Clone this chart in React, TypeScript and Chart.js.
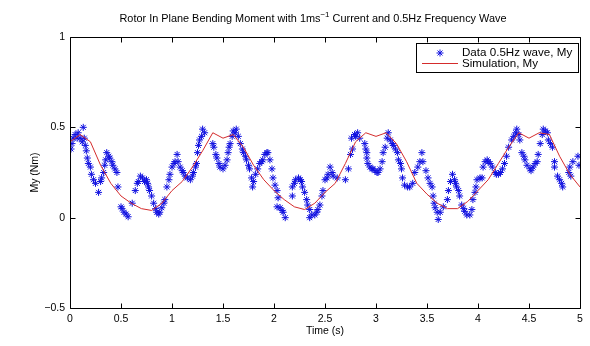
import React, { useEffect, useRef } from 'react';
import { Chart, registerables } from 'chart.js';
Chart.register(...registerables);

const titleMain = 'Rotor In Plane Bending Moment with 1ms';
const titleSup = '\u22121';
const titleRest = ' Current and 0.5Hz Frequency Wave';
const xLabel = 'Time (s)';
const yLabel = 'My (Nm)';
const legendData = 'Data 0.5Hz wave, My';
const legendSim = 'Simulation, My';

const xTicks = [0, 0.5, 1, 1.5, 2, 2.5, 3, 3.5, 4, 4.5, 5];
const yTicks = [-0.5, 0, 0.5, 1];

const simTime = [
  0.0, 0.1, 0.2, 0.3, 0.4, 0.5, 0.6, 0.7, 0.8, 0.9, 1.0, 1.1, 1.2, 1.3, 1.4, 1.5, 1.6, 1.7, 1.8, 1.9, 2.0,
  2.1, 2.2, 2.3, 2.4, 2.5, 2.6, 2.7, 2.8, 2.9, 3.0, 3.1, 3.2, 3.3, 3.4, 3.5, 3.6, 3.7, 3.8, 3.9, 4.0,
  4.1, 4.2, 4.3, 4.4, 4.5, 4.6, 4.7, 4.8, 4.9, 5.0,
];
const simMy = [
  0.42, 0.46, 0.42, 0.29, 0.19, 0.12, 0.08, 0.05, 0.04, 0.08, 0.15, 0.2, 0.28, 0.37, 0.47, 0.44, 0.46, 0.39, 0.29, 0.21, 0.15,
  0.1, 0.06, 0.045, 0.08, 0.14, 0.19, 0.3, 0.42, 0.47, 0.45, 0.47, 0.41, 0.31, 0.19, 0.13, 0.08, 0.05, 0.05, 0.09, 0.15,
  0.21, 0.3, 0.39, 0.47, 0.44, 0.47, 0.46, 0.34, 0.24, 0.17,
];

const dataTime = [
  0.01, 0.02, 0.03, 0.05, 0.07, 0.08, 0.1, 0.12, 0.13, 0.14, 0.15, 0.16, 0.17, 0.18, 0.2, 0.21, 0.23, 0.25, 0.28,
  0.3, 0.31, 0.33, 0.34, 0.35, 0.36, 0.38, 0.39, 0.41, 0.42, 0.44, 0.46, 0.47, 0.5, 0.51, 0.53, 0.55, 0.57,
  0.61, 0.64, 0.66, 0.67, 0.69, 0.71, 0.73, 0.75, 0.76, 0.77, 0.78, 0.8, 0.82, 0.84, 0.85, 0.87, 0.88, 0.9,
  0.92, 0.93, 0.95, 0.97, 0.98, 1.0, 1.02, 1.03, 1.05, 1.06, 1.08, 1.1, 1.11, 1.13, 1.15, 1.18, 1.2, 1.21,
  1.23, 1.24, 1.25, 1.26, 1.27, 1.29, 1.3, 1.32, 1.4, 1.41, 1.43, 1.44, 1.46, 1.47, 1.5, 1.52, 1.54, 1.55,
  1.56, 1.57, 1.59, 1.6, 1.62, 1.63, 1.65, 1.67, 1.69, 1.7, 1.72, 1.73, 1.75, 1.76, 1.78, 1.79, 1.8, 1.82,
  1.84, 1.86, 1.88, 1.89, 1.91, 1.93, 1.94, 1.96, 1.98, 1.99, 2.01, 2.03, 2.03, 2.04, 2.06, 2.08, 2.09, 2.11,
  2.18, 2.18, 2.2, 2.21, 2.24, 2.26, 2.27, 2.28, 2.3, 2.32, 2.33, 2.35, 2.35, 2.37, 2.4, 2.42, 2.43, 2.45,
  2.47, 2.48, 2.5, 2.52, 2.53, 2.55, 2.57, 2.58, 2.62, 2.7, 2.73, 2.75, 2.76, 2.77, 2.79, 2.8, 2.82, 2.84,
  2.89, 2.9, 2.91, 2.91, 2.92, 2.94, 2.96, 2.97, 2.99, 3.01, 3.02, 3.04, 3.06, 3.07, 3.09, 3.11, 3.12, 3.14,
  3.16, 3.17, 3.19, 3.21, 3.22, 3.24, 3.25, 3.26, 3.28, 3.31, 3.33, 3.36, 3.38, 3.41, 3.43, 3.45, 3.46, 3.49,
  3.51, 3.53, 3.55, 3.56, 3.57, 3.58, 3.6, 3.61, 3.63, 3.66, 3.7, 3.71, 3.73, 3.75, 3.77, 3.78, 3.79, 3.81,
  3.82, 3.84, 3.86, 3.87, 3.89, 3.92, 3.94, 3.95, 3.97, 3.98, 3.99, 4.02, 4.04, 4.05, 4.07, 4.09, 4.1, 4.12,
  4.14, 4.17, 4.18, 4.2, 4.22, 4.24, 4.26, 4.28, 4.3, 4.33, 4.35, 4.37, 4.38, 4.4, 4.41, 4.43, 4.45, 4.46,
  4.48, 4.51, 4.52, 4.54, 4.56, 4.58, 4.59, 4.61, 4.63, 4.64, 4.66, 4.68, 4.69, 4.71, 4.73, 4.75, 4.75, 4.78,
  4.8, 4.82, 4.83, 4.89, 4.9, 4.91, 4.93, 4.98, 4.99,
];
const dataMy = [
  0.38, 0.41, 0.44, 0.46, 0.44, 0.47, 0.44, 0.42, 0.5, 0.44, 0.4, 0.37, 0.33, 0.3, 0.28, 0.24, 0.21, 0.19, 0.14,
  0.2, 0.22, 0.25, 0.29, 0.32, 0.36, 0.34, 0.33, 0.31, 0.29, 0.27, 0.25, 0.17, 0.06, 0.05, 0.03, 0.02, 0.005,
  0.08, 0.15, 0.19, 0.2, 0.23, 0.22, 0.2, 0.21, 0.19, 0.17, 0.15, 0.12, 0.08, 0.05, 0.03, 0.02, 0.03, 0.055,
  0.08, 0.1, 0.17, 0.21, 0.24, 0.28, 0.3, 0.31, 0.35, 0.31, 0.28, 0.26, 0.25, 0.23, 0.22, 0.21, 0.23, 0.25,
  0.28, 0.3, 0.36, 0.4, 0.43, 0.45, 0.49, 0.47, 0.41, 0.39, 0.35, 0.33, 0.3, 0.28, 0.27, 0.29, 0.32, 0.36,
  0.39, 0.41, 0.45, 0.48, 0.47, 0.49, 0.45, 0.41, 0.38, 0.36, 0.34, 0.32, 0.29, 0.27, 0.22, 0.17, 0.2, 0.24,
  0.27, 0.3, 0.31, 0.32, 0.35, 0.36, 0.36, 0.32, 0.27, 0.22, 0.18, 0.15, 0.06, 0.11, 0.055, 0.04, 0.03, 0.0,
  0.12, 0.17, 0.19, 0.21, 0.22, 0.21, 0.2, 0.17, 0.14, 0.1, 0.07, 0.045, 0.0, 0.015, 0.015, 0.03, 0.045, 0.07,
  0.12, 0.15, 0.21, 0.22, 0.24, 0.28, 0.25, 0.23, 0.22, 0.21, 0.27, 0.35, 0.44, 0.38, 0.46, 0.45, 0.47, 0.44,
  0.41, 0.38, 0.36, 0.33, 0.3, 0.28, 0.27, 0.27, 0.26, 0.25, 0.25, 0.27, 0.31, 0.36, 0.39, 0.44, 0.47, 0.43,
  0.41, 0.4, 0.38, 0.36, 0.32, 0.3, 0.27, 0.22, 0.18, 0.17, 0.17, 0.19, 0.25, 0.28, 0.31, 0.36, 0.31, 0.26,
  0.22, 0.19, 0.17, 0.12, 0.08, 0.055, 0.03, -0.01, 0.03, 0.06, 0.1, 0.15, 0.2, 0.24, 0.21, 0.19, 0.17, 0.15,
  0.12, 0.07, 0.05, 0.035, 0.015, 0.015, 0.045, 0.1, 0.14, 0.17, 0.21, 0.22, 0.22, 0.28, 0.31, 0.32, 0.31, 0.3,
  0.28, 0.25, 0.24, 0.24, 0.25, 0.27, 0.3, 0.34, 0.39, 0.43, 0.45, 0.47, 0.49, 0.46, 0.43, 0.36, 0.34, 0.32,
  0.29, 0.27, 0.26, 0.28, 0.3, 0.31, 0.35, 0.41, 0.46, 0.49, 0.48, 0.47, 0.43, 0.41, 0.39, 0.31, 0.28, 0.23,
  0.21, 0.19, 0.17, 0.25, 0.28, 0.23, 0.31, 0.34, 0.29,
];

const BLUE = '#1010e0';
const RED = '#d42c2c';
const FONT = "'Liberation Sans', Arial, Helvetica, sans-serif";

export default function App() {
  const ref = useRef<HTMLCanvasElement>(null);
  useEffect(() => {
    document.body.style.margin = '0';
    const canvas = ref.current;
    if (!canvas) return;

    const matlab = {
      id: 'matlabDecor',
      afterDraw(chart: any) {
        const { ctx, chartArea: a, scales } = chart;
        const xs = scales.x;
        const ys = scales.y;
        const L = Math.round(a.left) + 0.5;
        const R = Math.round(a.right) + 0.5;
        const T = Math.round(a.top) + 0.5;
        const B = Math.round(a.bottom) + 0.5;
        ctx.save();
        ctx.strokeStyle = '#000';
        ctx.lineWidth = 1;
        ctx.beginPath();
        ctx.rect(L, T, R - L, B - T);
        ctx.stroke();
        const tl = 5;
        ctx.beginPath();
        xTicks.forEach((v) => {
          const px = Math.round(xs.getPixelForValue(v)) + 0.5;
          ctx.moveTo(px, B);
          ctx.lineTo(px, B - tl);
          ctx.moveTo(px, T);
          ctx.lineTo(px, T + tl);
        });
        yTicks.forEach((v) => {
          const py = Math.round(ys.getPixelForValue(v)) + 0.5;
          ctx.moveTo(L, py);
          ctx.lineTo(L + tl, py);
          ctx.moveTo(R, py);
          ctx.lineTo(R - tl, py);
        });
        ctx.stroke();

        // title
        ctx.fillStyle = '#000';
        ctx.textBaseline = 'middle';
        const fMain = `10.9px ${FONT}`;
        const fSup = `8px ${FONT}`;
        ctx.font = fMain;
        const w1 = ctx.measureText(titleMain).width;
        const w3 = ctx.measureText(titleRest).width;
        ctx.font = fSup;
        const w2 = ctx.measureText(titleSup).width;
        const cx = (a.left + a.right) / 2;
        let tx = 313 - (w1 + w2 + w3) / 2;
        const ty = 19;
        ctx.textAlign = 'left';
        ctx.font = fMain;
        ctx.fillText(titleMain, tx, ty);
        tx += w1;
        ctx.font = fSup;
        ctx.fillText(titleSup, tx, ty - 4);
        tx += w2;
        ctx.font = fMain;
        ctx.fillText(titleRest, tx, ty);

        // axis labels
        ctx.font = `10.5px ${FONT}`;
        ctx.textAlign = 'center';
        ctx.fillText(xLabel, cx, 331);
        ctx.save();
        ctx.translate(35, (a.top + a.bottom) / 2);
        ctx.rotate(-Math.PI / 2);
        ctx.fillText(yLabel, 0, 0);
        ctx.restore();

        // legend
        const lx = 416.5, ly = 43.5, lw = 162, lh = 29;
        ctx.fillStyle = '#fff';
        ctx.fillRect(lx, ly, lw, lh);
        ctx.strokeStyle = '#000';
        ctx.strokeRect(lx, ly, lw, lh);
        // asterisk marker
        const mx = 440, my = 53, r = 3.5;
        ctx.strokeStyle = BLUE;
        ctx.beginPath();
        ctx.moveTo(mx - r, my); ctx.lineTo(mx + r, my);
        ctx.moveTo(mx, my - r); ctx.lineTo(mx, my + r);
        const d = r * Math.SQRT1_2;
        ctx.moveTo(mx - d, my - d); ctx.lineTo(mx + d, my + d);
        ctx.moveTo(mx - d, my + d); ctx.lineTo(mx + d, my - d);
        ctx.stroke();
        ctx.strokeStyle = RED;
        ctx.beginPath();
        ctx.moveTo(422, 63.5); ctx.lineTo(458, 63.5);
        ctx.stroke();
        ctx.fillStyle = '#000';
        ctx.textAlign = 'left';
        ctx.font = `11.6px ${FONT}`;
        ctx.fillText(legendData, 462, 53);
        ctx.fillText(legendSim, 462, 64);
        ctx.restore();
      },
    };

    const tickFont = { family: FONT, size: 10.5 };
    const chart = new Chart(canvas, {
      type: 'scatter',
      data: {
        datasets: [
          {
            label: legendSim,
            data: simTime.map((t, i) => ({ x: t, y: simMy[i] })),
            showLine: true,
            borderColor: RED,
            backgroundColor: RED,
            borderWidth: 1,
            pointRadius: 0,
            tension: 0,
          },
          {
            label: legendData,
            data: dataTime.map((t, i) => ({ x: t, y: dataMy[i] })),
            showLine: false,
            pointStyle: 'star',
            pointRadius: 3.5,
            borderColor: BLUE,
            backgroundColor: BLUE,
            borderWidth: 1,
          },
        ],
      },
      options: {
        animation: false,
        responsive: false,
        events: [],
        layout: { padding: { left: 0, top: 37, right: 10, bottom: 0 } },
        plugins: {
          legend: { display: false },
          title: { display: false },
          tooltip: { enabled: false },
        },
        scales: {
          x: {
            type: 'linear',
            min: 0,
            max: 5,
            afterBuildTicks: (s: any) => {
              s.ticks = xTicks.map((v) => ({ value: v }));
            },
            afterFit: (s: any) => {
              s.height = 38;
            },
            grid: { display: false, drawTicks: false },
            border: { display: false },
            ticks: {
              padding: 5,
              color: '#000',
              font: tickFont,
              maxRotation: 0,
              autoSkip: false,
              callback: (v: any) => String(v).replace('-', '\u2212'),
            },
          },
          y: {
            type: 'linear',
            min: -0.5,
            max: 1,
            afterBuildTicks: (s: any) => {
              s.ticks = yTicks.map((v) => ({ value: v }));
            },
            afterFit: (s: any) => {
              s.width = 70;
            },
            grid: { display: false, drawTicks: false },
            border: { display: false },
            ticks: {
              padding: 5,
              color: '#000',
              font: tickFont,
              autoSkip: false,
              callback: (v: any) => String(v).replace('-', '\u2212'),
            },
          },
        },
      },
      plugins: [matlab],
    });
    return () => chart.destroy();
  }, []);

  return (
    <div style={{ position: 'fixed', left: 0, top: 0, width: 590, height: 346, background: '#fff' }}>
      <canvas ref={ref} width={590} height={346} style={{ display: 'block' }} />
    </div>
  );
}
